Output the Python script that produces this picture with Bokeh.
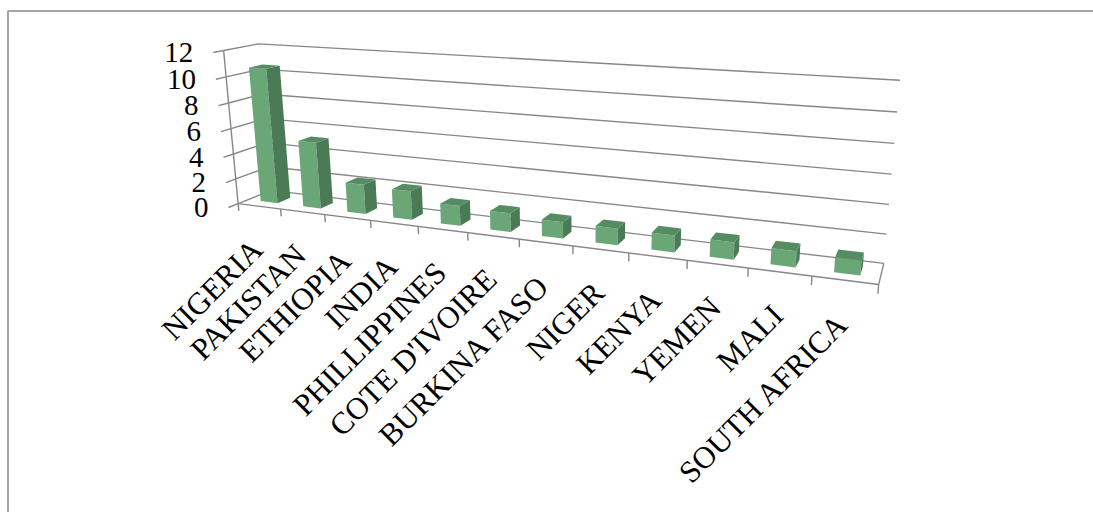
import numpy as np
from bokeh.plotting import figure
from bokeh.models import Range1d
from bokeh.embed import file_html
from bokeh.resources import INLINE
from bokeh.core.properties import value

countries = ["NIGERIA", "PAKISTAN", "ETHIOPIA", "INDIA", "PHILLIPPINES",
             "COTE D'IVOIRE", "BURKINA FASO", "NIGER", "KENYA", "YEMEN",
             "MALI", "SOUTH AFRICA"]
values = [10.6, 5.2, 2.3, 2.2, 1.5, 1.4, 1.2, 1.2, 1.2, 1.2, 1.1, 1.0]
y_ticks = [0, 2, 4, 6, 8, 10, 12]
y_labels = [str(t) for t in y_ticks]

# 3D view: x = category units, y = value units, z = depth (0 front, 1 back wall)
VIEW = np.array([
    [37.45, -1.974, 45.33, 237.6],
    [1.594, -12.93, -4.288, 203.1],
    [-0.01814, -0.003436, 0.04678, 1.0],
])

def proj(X, Y, Z):
    w = VIEW @ np.array([X, Y, Z, 1.0])
    return w[0] / w[2], w[1] / w[2]

def poly(points):
    pp = [proj(*q) for q in points]
    return [q[0] for q in pp], [q[1] for q in pp]

n = len(countries)
ymax = y_ticks[-1]

FONT = value("Liberation Serif")
GRID = "#878787"

p = figure(width=1093, height=512, output_backend="svg", toolbar_location=None,
           x_range=Range1d(0, 1093), y_range=Range1d(512, 0), min_border=0,
           background_fill_color="white", border_fill_color="white")
p.axis.visible = False
p.grid.visible = False
p.outline_line_color = None

# chart area frame
p.multi_line([[7.5, 7.5, 1093]], [[512, 10.5, 10.5]], line_color="#a6a6a6", line_width=2)

# gridlines on side wall and back wall
gx, gy = [], []
for t in y_ticks:
    xs_, ys_ = poly([(0, t, 0), (0, t, 1), (n, t, 1)])
    gx.append(xs_); gy.append(ys_)
p.multi_line(gx, gy, line_color=GRID, line_width=1.4)

# axis lines: value axis edge, floor front edge, floor right edge
ax, ay = [], []
for seg in ([(0, 0, 0), (0, ymax, 0)], [(0, 0, 0), (n, 0, 0)], [(n, 0, 0), (n, 0, 1)]):
    xs_, ys_ = poly(seg)
    ax.append(xs_); ay.append(ys_)
# tick marks
for t in y_ticks:
    xs_, ys_ = poly([(0, t, 0), (0, t, -0.28)])
    ax.append(xs_); ay.append(ys_)
for k in range(n + 1):
    xs_, ys_ = poly([(k, 0, 0), (k, -0.6, 0)])
    ax.append(xs_); ay.append(ys_)
p.multi_line(ax, ay, line_color=GRID, line_width=1.4)

# columns: front, right side and top faces
fx, fy, fc = [], [], []
for i, v in enumerate(values):
    x0, x1, z0, z1 = i + 0.3, i + 0.7, 0.3, 0.7
    faces = [([(x0, 0, z0), (x1, 0, z0), (x1, v, z0), (x0, v, z0)], "#6ba677"),
             ([(x1, 0, z0), (x1, 0, z1), (x1, v, z1), (x1, v, z0)], "#4b7a56"),
             ([(x0, v, z0), (x1, v, z0), (x1, v, z1), (x0, v, z1)], "#568c62")]
    for f, c in faces:
        xs_, ys_ = poly(f)
        fx.append(xs_); fy.append(ys_); fc.append(c)
p.patches(fx, fy, fill_color=fc, line_color=None)

# value axis labels
lab = [proj(0, t, -0.28) for t in y_ticks]
p.text(x=[q[0] for q in lab], y=[q[1] for q in lab], text=y_labels,
       text_align="right", text_baseline="middle", x_offset=-20,
       text_font=FONT, text_font_size="29px", text_color="black")

# category labels
cl = [proj(i + 0.5, 0, 0) for i in range(n)]
p.text(x=[q[0] for q in cl], y=[q[1] for q in cl], text=countries,
       angle=np.pi / 4, text_align="right", text_baseline="middle",
       x_offset=-2, y_offset=38,
       text_font=FONT, text_font_size="31px", text_color="black")

open("out.html", "w").write(file_html(p, INLINE))
